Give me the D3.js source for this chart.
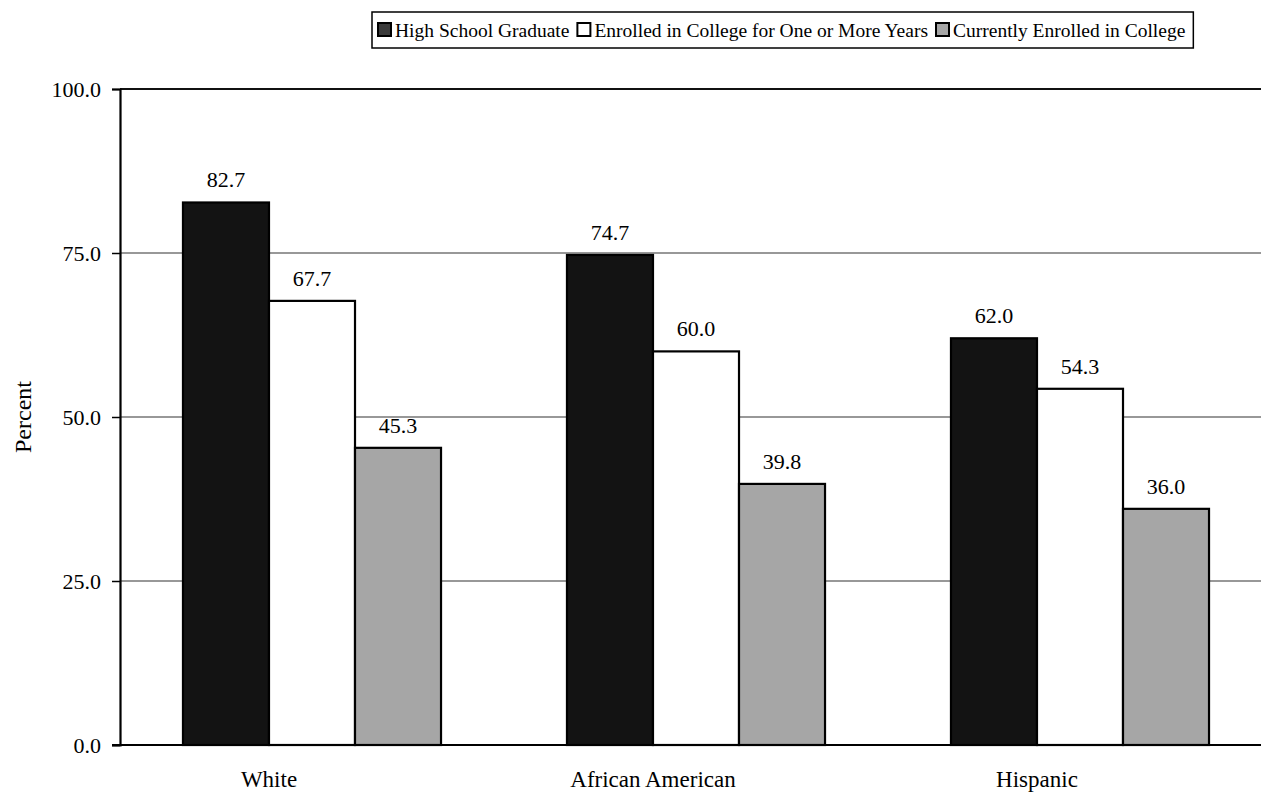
<!DOCTYPE html>
<html>
<head>
<meta charset="utf-8">
<script src="https://cdn.jsdelivr.net/npm/d3@7"></script>
<style>
  html, body { margin: 0; padding: 0; background: #fff; }
  svg { display: block; }
</style>
</head>
<body>
<svg id="chart" width="1261" height="793"></svg>
<script>
// Groups along the x axis
const categories = ["White", "African American", "Hispanic"];
// Series names, in legend order
const seriesNames = [
  "High School Graduate",
  "Enrolled in College for One or More Years",
  "Currently Enrolled in College"
];
// Percent values per series, one entry per group
const highSchoolGrad = [82.7, 74.7, 62.0];
const enrolledOnePlus = [67.7, 60.0, 54.3];
const currentlyEnrolled = [45.3, 39.8, 36.0];
// Y axis ticks
const yTicks = [0, 25, 50, 75, 100];

const seriesValues = [highSchoolGrad, enrolledOnePlus, currentlyEnrolled];
const fills = ["#131313", "#ffffff", "#a6a6a6"];
const FONT = "'Liberation Serif', 'DejaVu Serif', serif";

const svg = d3.select("#chart");
const margin = { left: 120, top: 89, right: -11, bottom: 48 };
const W = 1261, H = 793;
const plotRight = W - margin.right;
const plotBottom = H - margin.bottom;

const x0 = d3.scaleBand()
  .domain(categories)
  .range([margin.left, plotRight])
  .paddingInner(0.328)
  .paddingOuter(0.164);
const x1 = d3.scaleBand()
  .domain(d3.range(seriesNames.length))
  .range([0, x0.bandwidth()]);
const y = d3.scaleLinear().domain([0, 100]).range([plotBottom, margin.top]);

// Gridlines
svg.append("g")
  .selectAll("line")
  .data(yTicks.filter(t => t > 0 && t < 100))
  .join("line")
  .attr("x1", margin.left).attr("x2", W)
  .attr("y1", d => y(d)).attr("y2", d => y(d))
  .attr("stroke", "#333").attr("stroke-width", 1.2);

// Top border of the plot area
svg.append("line")
  .attr("x1", margin.left).attr("x2", W)
  .attr("y1", y(100)).attr("y2", y(100))
  .attr("stroke", "#111").attr("stroke-width", 2);

// Bars
const groups = svg.append("g")
  .selectAll("g")
  .data(categories)
  .join("g")
  .attr("transform", d => `translate(${x0(d)},0)`);

groups.selectAll("rect")
  .data((c, ci) => seriesValues.map((vals, si) => ({ si, v: vals[ci] })))
  .join("rect")
  .attr("x", d => x1(d.si))
  .attr("width", x1.bandwidth())
  .attr("y", d => y(d.v))
  .attr("height", d => y(0) - y(d.v))
  .attr("fill", d => fills[d.si])
  .attr("stroke", "#000")
  .attr("stroke-width", 2.2);

// Value labels
groups.selectAll("text.val")
  .data((c, ci) => seriesValues.map((vals, si) => ({ si, v: vals[ci] })))
  .join("text")
  .attr("class", "val")
  .attr("x", d => x1(d.si) + x1.bandwidth() / 2)
  .attr("y", d => y(d.v) - 15)
  .attr("text-anchor", "middle")
  .attr("font-family", FONT)
  .attr("font-size", 22)
  .text(d => d.v.toFixed(1));

// Y axis
const yAxis = d3.axisLeft(y)
  .tickValues(yTicks)
  .tickFormat(d3.format(".1f"))
  .tickSize(8)
  .tickPadding(11);
const yg = svg.append("g")
  .attr("transform", `translate(${margin.left},0)`)
  .call(yAxis)
  .attr("font-family", FONT)
  .attr("font-size", 22);
yg.select(".domain").attr("stroke", "#000").attr("stroke-width", 2.2);
yg.selectAll(".tick line").attr("stroke", "#000").attr("stroke-width", 1.5);
yg.selectAll(".tick text").attr("fill", "#000");

// X axis baseline
svg.append("line")
  .attr("x1", margin.left - 8).attr("x2", W)
  .attr("y1", y(0)).attr("y2", y(0))
  .attr("stroke", "#000").attr("stroke-width", 2.2);

// Category labels
svg.append("g")
  .selectAll("text")
  .data(categories)
  .join("text")
  .attr("x", d => x0(d) + x0.bandwidth() / 2 - 43)
  .attr("y", 787)
  .attr("text-anchor", "middle")
  .attr("font-family", FONT)
  .attr("font-size", 23)
  .text(d => d);

// Y axis title
svg.append("text")
  .attr("transform", `translate(31,${(y(0) + y(100)) / 2}) rotate(-90)`)
  .attr("text-anchor", "middle")
  .attr("font-family", FONT)
  .attr("font-size", 24)
  .text("Percent");

// Legend: swatch + label, laid out left to right inside a framed box
const legend = svg.append("g");
const box = legend.append("rect")
  .attr("x", 372).attr("y", 12)
  .attr("height", 36)
  .attr("fill", "#fff").attr("stroke", "#000").attr("stroke-width", 1.5);
let cursor = 378;
seriesNames.forEach((name, i) => {
  legend.append("rect")
    .attr("x", cursor).attr("y", 23)
    .attr("width", 13).attr("height", 13)
    .attr("fill", i === 0 ? "#3a3a3a" : fills[i])
    .attr("stroke", "#000").attr("stroke-width", 2);
  const t = legend.append("text")
    .attr("x", cursor + 17).attr("y", 37)
    .attr("font-family", FONT)
    .attr("font-size", 19.5)
    .text(name);
  cursor += 17 + t.node().getComputedTextLength() + 8;
});
box.attr("width", cursor - 372);
</script>
</body>
</html>
